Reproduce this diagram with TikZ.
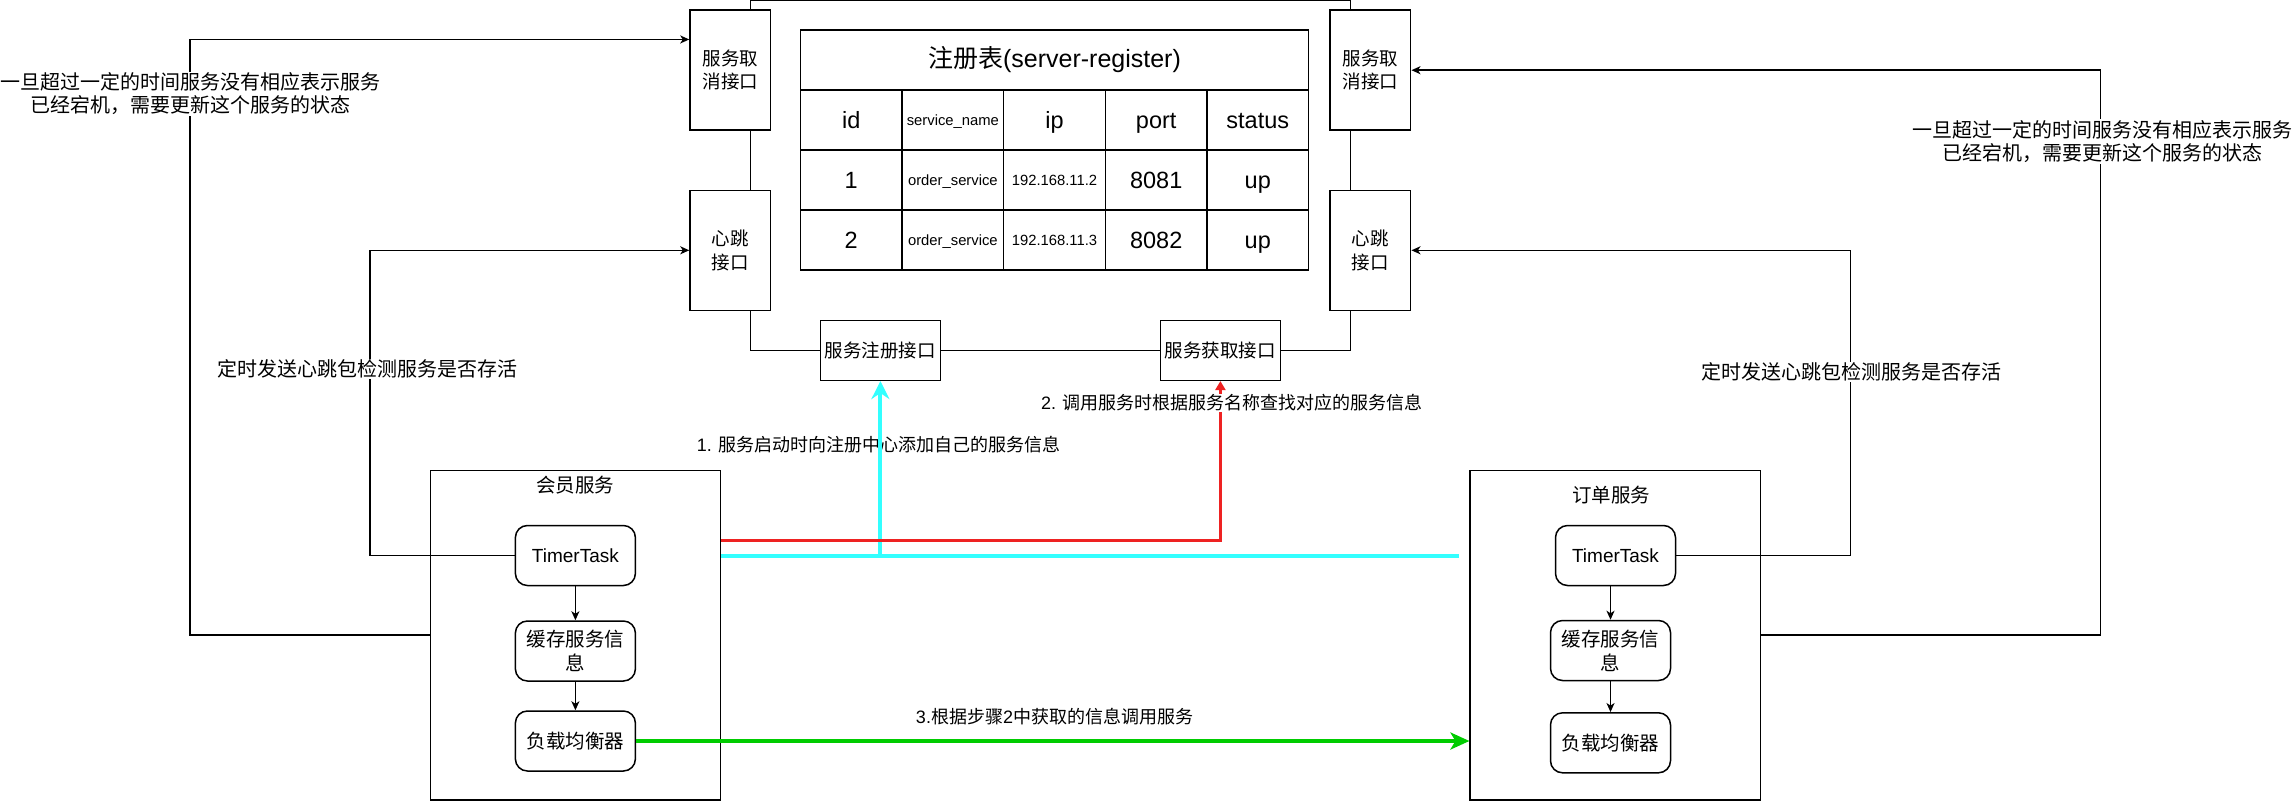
\documentclass[tikz,border=0pt]{standalone}
\usepackage{fontspec}
\setmainfont{Liberation Sans}
\newfontfamily\cjk{Noto Sans CJK SC}
\usetikzlibrary{arrows.meta}
\definecolor{regcyan}{HTML}{33FFFF}
\definecolor{getred}{HTML}{EE2222}
\definecolor{callgreen}{HTML}{00CC00}

\begin{document}
\begin{tikzpicture}[x=1pt, y=-1pt, line width=1.5pt,
    port/.style={draw, minimum width=80.6pt, minimum height=120pt, inner sep=0pt, align=center, font=\cjk\fontsize{18.5}{23.5}\selectfont},
    api/.style={draw, minimum width=120pt, minimum height=60pt, inner sep=0pt, font=\cjk\fontsize{18.5}{22}\selectfont},
    cell/.style={draw, minimum width=101.64pt, minimum height=60pt, inner sep=0pt, text height=16.8pt, text depth=0pt, font=\fontsize{23.5}{26}\selectfont},
    smallcell/.style={cell, text height=10.6pt, font=\fontsize{14.8}{17}\selectfont},
    service/.style={draw, minimum width=290.2pt, minimum height=329.5pt, inner sep=0pt},
    task/.style={draw, rounded corners=12pt, minimum width=120pt, minimum height=60pt, inner sep=0pt, align=center, font=\cjk\fontsize{19.5}{24}\selectfont},
    title/.style={font=\cjk\fontsize{19.5}{22}\selectfont},
    note/.style={fill=white, inner sep=1pt, align=center, font=\cjk\fontsize{20}{23}\selectfont},
    steplabel/.style={inner sep=1pt, font=\fontsize{18}{21}\selectfont},
    link/.style={line width=1.5pt},
    arrow/.style={line width=1.5pt, -{Stealth[length=9pt, width=8pt, inset=2.5pt]}},
  ]
  \useasboundingbox (0,0) rectangle (2292,801);

  % 注册中心
  \node[port] (lcancel) at (730.3,70.2) {服务取\\消接口};
  \node[port] (lhb) at (730.3,250.3) {心跳\\接口};
  \node[port] (rcancel) at (1370.4,70.2) {服务取\\消接口};
  \node[port] (rhb) at (1370.4,250.3) {心跳\\接口};
  \node[api] (reg) at (880.4,350.3) {服务注册接口};
  \node[api] (fetch) at (1220.4,350.3) {服务获取接口};

  % 注册表
  \node[draw, minimum width=508.2pt, minimum height=60pt, inner sep=0pt, font=\fontsize{25}{28}\selectfont] (regtitle) at (1054.5,60) {{\cjk 注册表}(server-register)};
  \node[cell] (h1) at (851.2,120) {id};
  \node[smallcell] (h2) at (952.9,120) {service\_name};
  \node[cell] (h3) at (1054.5,120) {ip};
  \node[cell] (h4) at (1156.2,120) {port};
  \node[cell] (h5) at (1257.8,120) {status};
  \node[cell] (a1) at (851.2,180) {1};
  \node[smallcell] (a2) at (952.9,180) {order\_service};
  \node[smallcell] (a3) at (1054.5,180) {192.168.11.2};
  \node[cell] (a4) at (1156.2,180) {8081};
  \node[cell] (a5) at (1257.8,180) {up};
  \node[cell] (b1) at (851.2,240) {2};
  \node[smallcell] (b2) at (952.9,240) {order\_service};
  \node[smallcell] (b3) at (1054.5,240) {192.168.11.3};
  \node[cell] (b4) at (1156.2,240) {8082};
  \node[cell] (b5) at (1257.8,240) {up};

  % 服务
  \node[service] (member) at (575.4,635) {};
  \node[title] (membername) at (575.4,485) {会员服务};
  \node[task, font=\fontsize{19}{22}\selectfont] (tt1) at (575.4,555.5) {TimerTask};
  \node[task] (cache1) at (575.4,651) {缓存服务信\\息};
  \node[task] (lb1) at (575.4,741) {负载均衡器};

  \node[service] (order) at (1615.3,635) {};
  \node[title] (ordername) at (1611,495) {订单服务};
  \node[task, font=\fontsize{19}{22}\selectfont] (tt2) at (1615.5,555.5) {TimerTask};
  \node[task] (cache2) at (1610.5,650.5) {缓存服务信\\息};
  \node[task] (lb2) at (1610.5,742.8) {负载均衡器};

  % 线を引く
  \draw[link] ([xshift=20pt]lcancel.north) -- ++(0,-9.3) -| ([xshift=-20pt]rcancel.north);
  \draw[link] ([xshift=20pt]lcancel.south) -- ([xshift=20pt]lhb.north);
  \draw[link] ([xshift=20pt]lhb.south) |- (reg.west);
  \draw[link] (reg) -- (fetch);
  \draw[link] (fetch.east) -| ([xshift=-20pt]rhb.south);
  \draw[link] ([xshift=-20pt]rhb.north) -- ([xshift=-20pt]rcancel.south);

  \draw[arrow] (tt1) -- (cache1);
  \draw[arrow] (cache1) -- (lb1);
  \draw[arrow] (cache2.north |- tt2.south) -- (cache2);
  \draw[arrow] (cache2) -- (lb2);

  \draw[arrow] (tt1.west) -- ++(-144.7,0) |- (lhb.west);
  \draw[arrow] (member.west) -- ++(-239.8,0) |- ([yshift=-30pt]lcancel.north west);
  \draw[arrow] (tt2.east) -- ++(174.3,0) |- (rhb.east);
  \draw[arrow] (order.east) -- ++(339.5,0) |- (rcancel.east);

  % 1. 2. 3.
  \node[steplabel] (step1) at (878.6,445) {1. {\cjk 服务启动时向注册中心添加自己的服务信息}};
  \draw[regcyan, line width=4pt] (member.east |- tt1.center) -- ([xshift=-10pt]order.west |- tt1.center);
  \draw[regcyan, line width=4pt, -{Stealth[length=18pt, width=18pt, inset=6pt]}] (reg.south |- tt1.center) -- (reg.south);

  \draw[getred, line width=3pt, -{Triangle[length=9pt, width=10pt]}] (member.east |- 0,540) -| (fetch.south);
  \node[steplabel, fill=white] (step2) at (1232,403) {2. {\cjk 调用服务时根据服务名称查找对应的服务信息}};

  \draw[callgreen, line width=4pt, -{Stealth[length=19pt, width=17pt, inset=5pt]}] (lb1.east) -- (lb1.east -| order.west);
  \node[steplabel] (step3) at (1054.5,717) {3.{\cjk 根据步骤}2{\cjk 中获取的信息调用服务}};

  % 説明
  \node[note] (lnote) at (191,94) {一旦超过一定的时间服务没有相应表示服务\\已经宕机，需要更新这个服务的状态};
  \node[note] (rnote) at (2102,141.5) {一旦超过一定的时间服务没有相应表示服务\\已经宕机，需要更新这个服务的状态};
  \node[note] (lhbnote) at (367,369) {定时发送心跳包检测服务是否存活};
  \node[note] (rhbnote) at (1851,372) {定时发送心跳包检测服务是否存活};
\end{tikzpicture}
\end{document}
